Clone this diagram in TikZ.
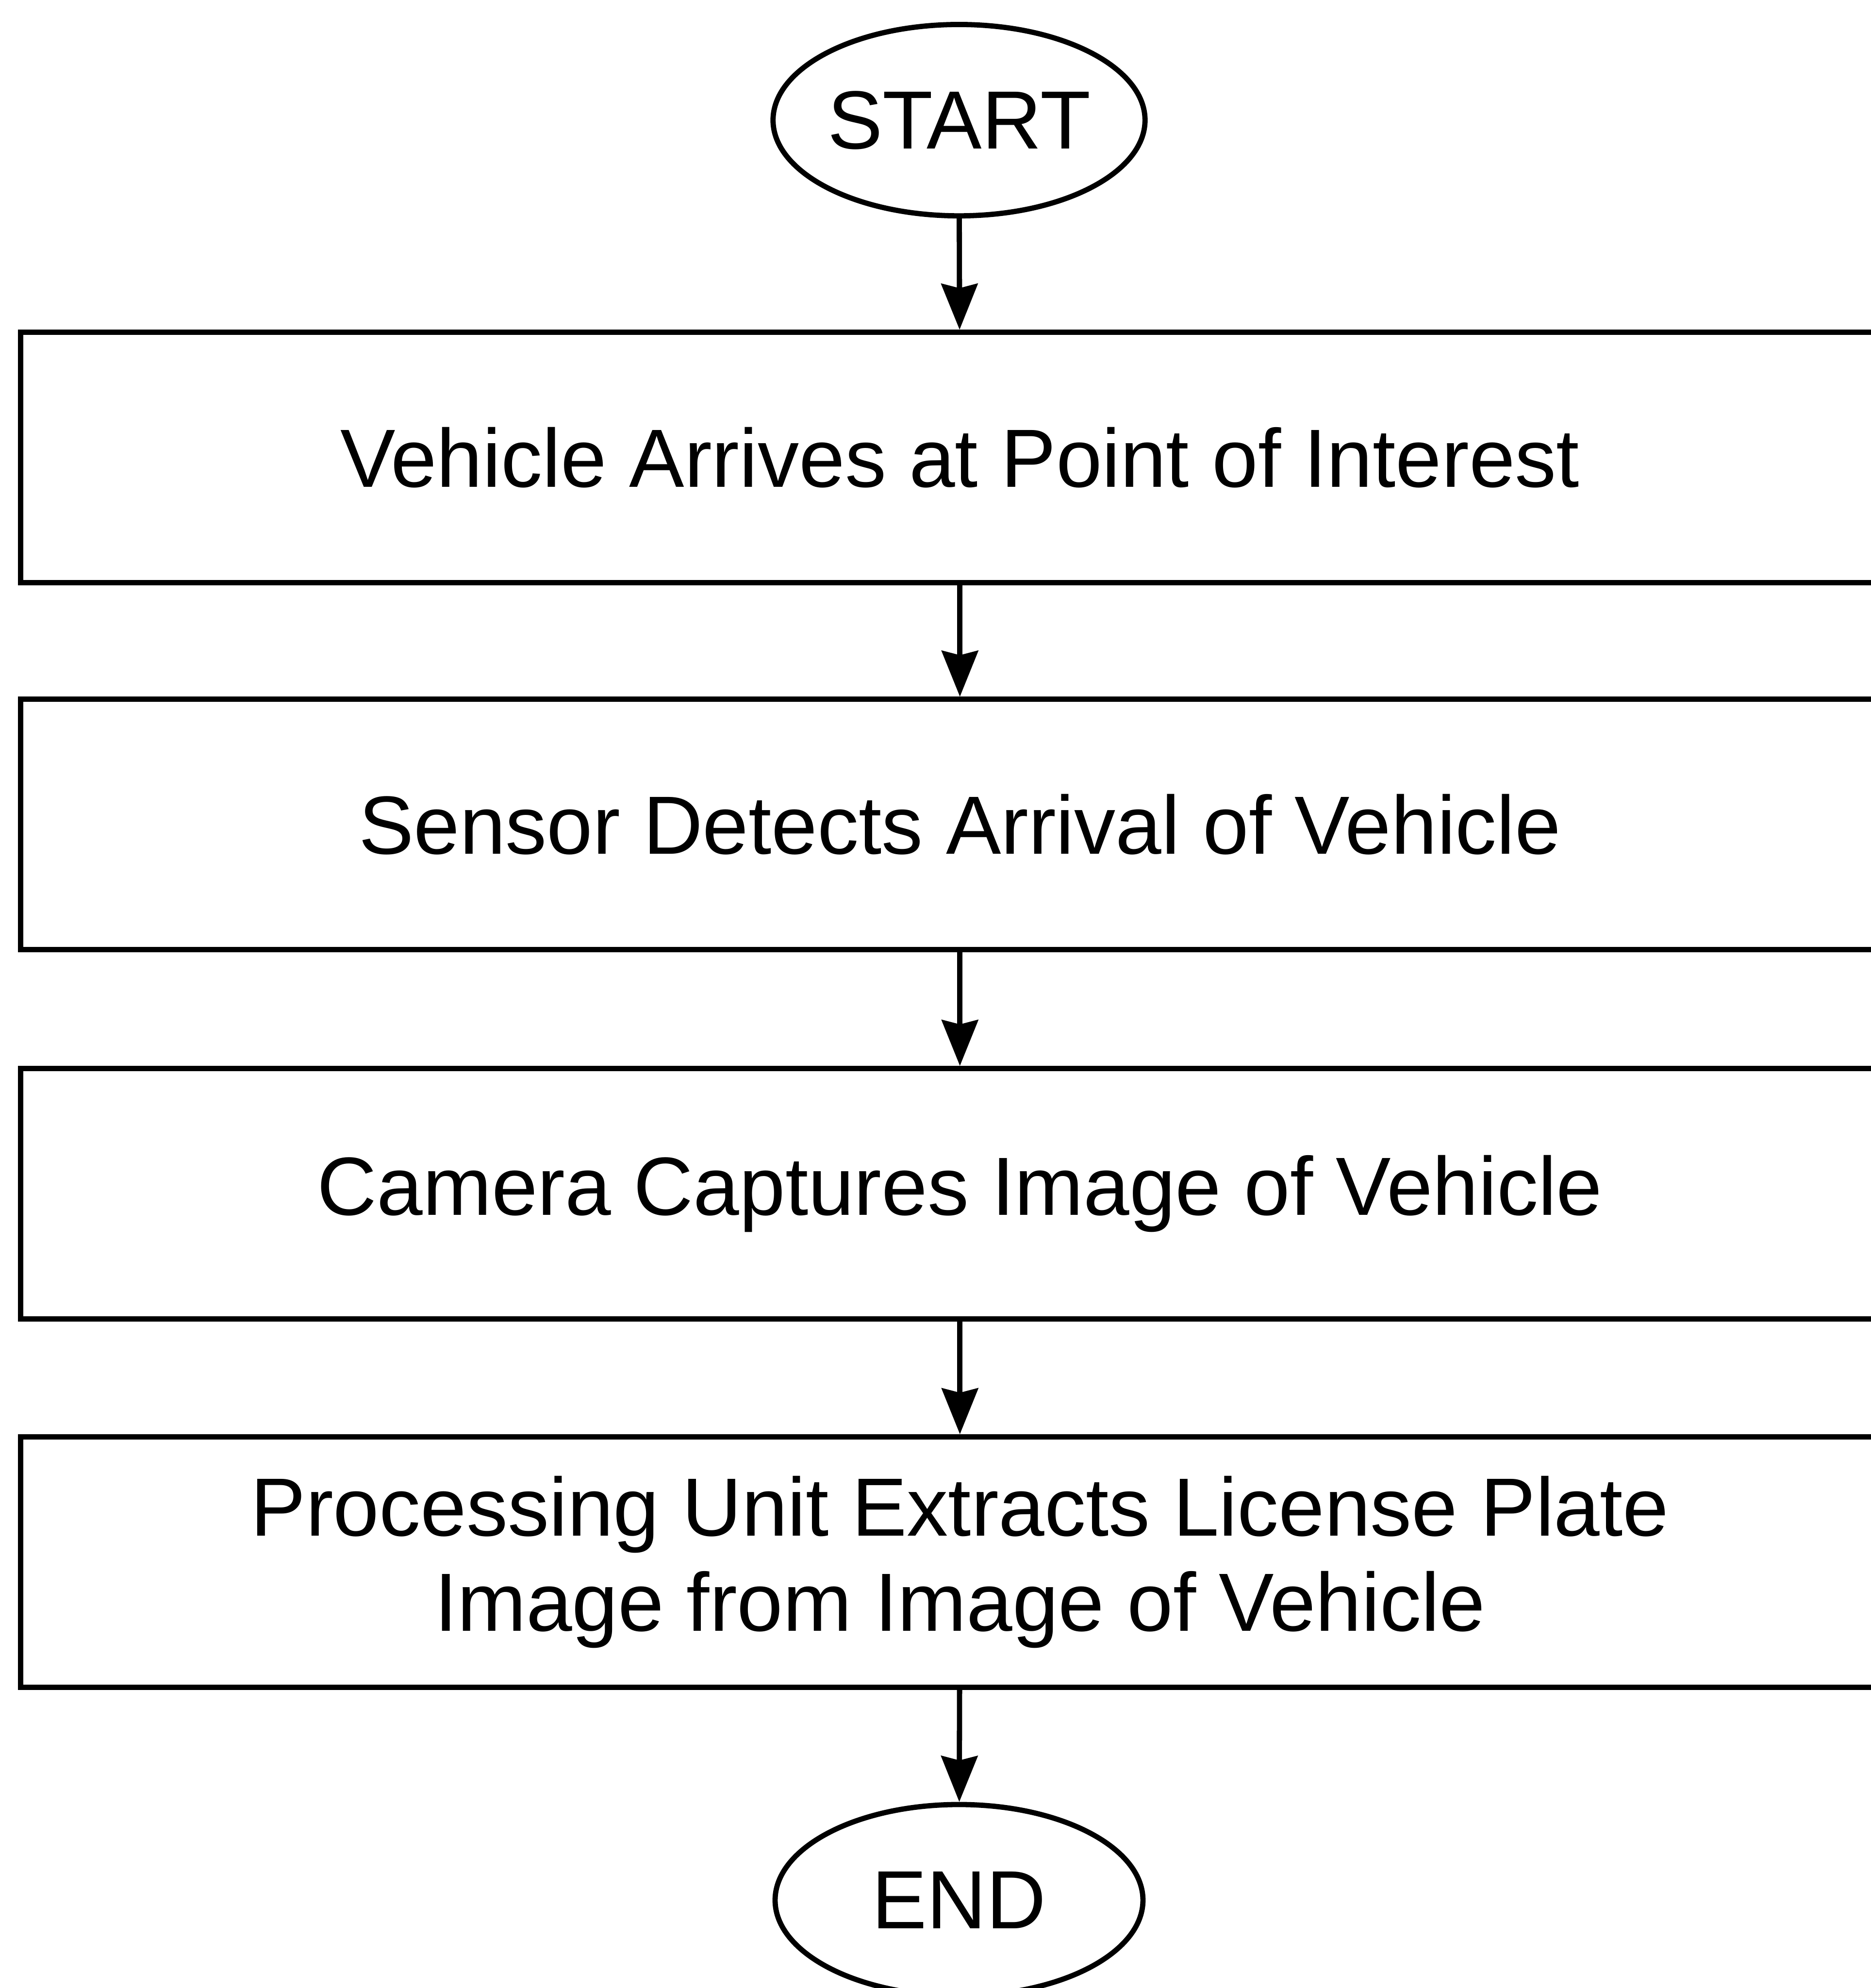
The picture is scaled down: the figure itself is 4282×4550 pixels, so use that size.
\documentclass[tikz,border=0pt]{standalone}
\usepackage{fontspec}
\setmainfont{Liberation Sans}
\usetikzlibrary{shapes.geometric,arrows.meta}
\begin{document}
\begin{tikzpicture}[x=0.1pt,y=-0.1pt,
  line width=1.2pt,
  txt/.style={font=\fontsize{18.9pt}{21.8pt}\selectfont},
  stepbox/.style={draw, rectangle, minimum width=430pt, minimum height=57.3pt, inner sep=0pt, align=center, txt},
  term/.style={draw, ellipse, minimum width=84.2pt, minimum height=43.8pt, inner sep=0pt, txt},
  flow/.style={-{Stealth[length=10.5pt,width=8.3pt,inset=1pt]}}]
\useasboundingbox (0,0) rectangle (4282,4550);
\clip (0,0) rectangle (4282,4550);
\fill[white] (0,0) rectangle (4282,4550);
\node[term] (start) at (2195,275) {START};
\node[stepbox] (s1) at (2197,1047) {Vehicle Arrives at Point of Interest};
\node[stepbox] (s2) at (2197,1887) {Sensor Detects Arrival of Vehicle};
\node[stepbox] (s3) at (2197,2732) {Camera Captures Image of Vehicle};
\node[stepbox] (s4) at (2197,3575) {Processing Unit Extracts License Plate\\Image from Image of Vehicle};
\node[term] (end) at (2195,4349) {END};
\draw[flow] (start) -- (s1);
\draw[flow] (s1) -- (s2);
\draw[flow] (s2) -- (s3);
\draw[flow] (s3) -- (s4);
\draw[flow] (s4) -- (end);
\end{tikzpicture}
\end{document}
